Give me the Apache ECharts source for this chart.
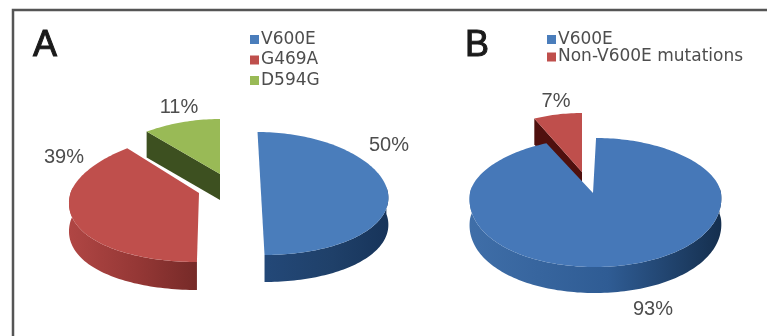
<!DOCTYPE html>
<html>
<head>
<meta charset="utf-8">
<style>html,body{margin:0;padding:0;background:#fff}#chart{width:767px;height:336px}</style>
<script src="https://cdn.jsdelivr.net/npm/echarts@6/dist/echarts.min.js"></script>
</head>
<body>
<div id="chart"></div>
<script>
// Panel A: share of BRAF mutation types
const categoriesA = ['V600E', 'G469A', 'D594G'];
const valuesA = [50, 39, 11];
// Panel B: V600E against all other mutations
const categoriesB = ['V600E', 'Non-V600E mutations'];
const valuesB = [93, 7];

// Slice colours: top face, wall gradient stops (left to right), cut face
const paint = {
  blueA: { top: '#4a7dbb', wall: ['#234878', '#1f4069', '#17345a'], cut: '#1f3f66' },
  red:   { top: '#bf4f4c', wall: ['#b04644', '#943735', '#762a28'], cut: '#5c1714' },
  green: { top: '#99ba56', wall: ['#5f7a2c', '#4f6626', '#3f5220'], cut: '#3d5020' },
  blueB: { top: '#4678b8', wall: ['#3f6ea8', '#2f5c94', '#152f4e'], cut: '#1f3f66' },
  redB:  { top: '#bf4f4c', wall: ['#a03c3a', '#7c2a28', '#5c1714'], cut: '#4f100e' }
};

// Each exploded slice sits on its own squashed, perspective-narrowed disc
const discsA = [
  { cx: 261, cy: 193, rx: 127, up: 61, down: 62, depth: 27, skew: 0.057, k: 0.05, z: 1, paint: paint.blueA, label: [389, 145] },
  { cx: 199, cy: 193, rx: 128.5, up: 58, down: 69, depth: 28, skew: -0.03, k: 0.14, z: 1, paint: paint.red, label: [64, 157] },
  { cx: 220, cy: 174, rx: 129, up: 55, down: 60, depth: 26, skew: 0, k: 0.14, z: 1, paint: paint.green, label: [179, 107] }
];
const discsB = [
  { cx: 595.5, cy: 193, rx: 125.5, up: 55, down: 74, depth: 26, skew: -0.01, k: 0.08, apexDx: -2.5, z: 5, paint: paint.blueB, label: [653, 309] },
  { cx: 582, cy: 172, rx: 127, up: 59, down: 60, depth: 26, skew: 0, k: 0.13, z: 1, paint: paint.redB, label: [556, 101] }
];

const labelFont = { fontFamily: 'Liberation Sans', fontSize: 20, fill: '#4d4d4d', align: 'center', verticalAlign: 'middle' };

// Projects a clockwise-from-top angle on the disc rim
function project(d, angle) {
  const c = Math.cos(angle), s = Math.sin(angle);
  const y = -c * (c > 0 ? d.up : d.down);
  return [d.cx + d.rx * s * (1 - d.k * c) + d.skew * y, d.cy + y];
}

function sliceSeries(name, values, index, disc) {
  const total = values.reduce((a, b) => a + b, 0);
  const before = values.slice(0, index).reduce((a, b) => a + b, 0);
  const a0 = before / total * Math.PI * 2;
  const a1 = (before + values[index]) / total * Math.PI * 2;
  return {
    type: 'custom',
    name,
    coordinateSystem: 'none',
    itemStyle: { color: disc.paint.top },
    data: [values[index]],
    silent: true,
    renderItem(params, api) {
      const steps = Math.max(8, Math.round((a1 - a0) * 40));
      const rim = [];
      for (let i = 0; i <= steps; i++) rim.push(a0 + (a1 - a0) * i / steps);
      const rimPts = rim.map(a => project(disc, a));
      const apex = [disc.cx + (disc.apexDx || 0), disc.cy];
      const drop = p => [p[0], p[1] + disc.depth];
      const children = [];
      const z2 = disc.z;

      // a cut face shows only when its outward normal points at the viewer
      const cutFace = p => children.push({
        type: 'polygon', z2,
        shape: { points: [apex, p, drop(p), drop(apex)] },
        style: { fill: disc.paint.cut }
      });
      if (Math.sin(a0) < -0.05) cutFace(rimPts[0]);
      if (Math.sin(a1) > 0.05) cutFace(rimPts[rimPts.length - 1]);

      // outer wall, only along the near side of the rim
      const front = rim.filter(a => Math.cos(a) < 0.12).map(a => project(disc, a));
      if (front.length > 1) {
        const wall = disc.paint.wall;
        children.push({
          type: 'polygon', z2: z2 + 1,
          shape: { points: front.concat(front.map(drop).reverse()) },
          style: {
            fill: new echarts.graphic.LinearGradient(0, 0, 1, 0, [
              { offset: 0, color: wall[0] },
              { offset: 0.55, color: wall[1] },
              { offset: 1, color: wall[2] }
            ])
          }
        });
      }

      // top face
      children.push({
        type: 'polygon', z2: z2 + 2,
        shape: { points: [apex].concat(rimPts) },
        style: { fill: disc.paint.top }
      });

      // percentage label
      children.push({
        type: 'text', z2: 20,
        x: disc.label[0], y: disc.label[1],
        style: Object.assign({ text: api.value(0) + '%' }, labelFont)
      });
      return { type: 'group', children };
    }
  };
}

const legendBase = {
  orient: 'vertical',
  icon: 'rect',
  itemWidth: 9,
  itemHeight: 9,
  selectedMode: false,
  padding: 0,
  textStyle: { fontFamily: 'DejaVu Sans', fontSize: 17, color: '#4d4d4d', padding: [0, 0, 0, -3] }
};

const panelLetter = { fontFamily: 'Liberation Sans', fontSize: 36, fontWeight: 'normal', color: '#1a1a1a', textBorderColor: '#1a1a1a', textBorderWidth: 1 };

const chart = echarts.init(document.getElementById('chart'), null, { renderer: 'canvas' });
chart.setOption({
  animation: false,
  backgroundColor: '#fff',
  title: [
    { text: 'A', left: 33, top: 28, padding: 0, textStyle: panelLetter },
    { text: 'B', left: 465, top: 28, padding: 0, textStyle: panelLetter }
  ],
  legend: [
    Object.assign({}, legendBase, { left: 250, top: 31, itemGap: 3.5, data: categoriesA.map(name => ({ name })) }),
    Object.assign({}, legendBase, { left: 547, top: 31, itemGap: 0.5, data: categoriesB.map(name => ({ name })) })
  ],
  graphic: [{
    type: 'polyline', silent: true,
    shape: { points: [[767, 10], [13, 10], [13, 336]] },
    style: { stroke: '#555', lineWidth: 2.5, fill: null }
  }],
  series: categoriesA.map((n, i) => sliceSeries(n, valuesA, i, discsA[i]))
    .concat(categoriesB.map((n, i) => sliceSeries(n, valuesB, i, discsB[i])))
});
</script>
</body>
</html>
